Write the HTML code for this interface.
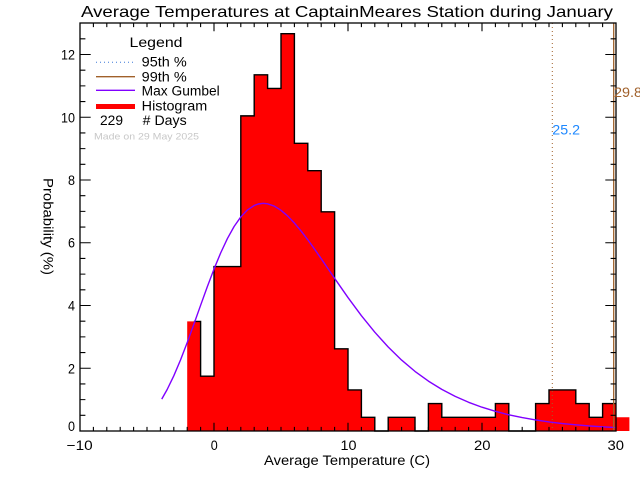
<!DOCTYPE html>
<html><head><meta charset="utf-8"><style>
html,body{margin:0;padding:0;background:#fff;}
svg{display:block;}
text{font-family:"Liberation Sans",sans-serif;}
</style></head><body>
<svg width="640" height="480" viewBox="0 0 640 480" xmlns="http://www.w3.org/2000/svg">
<rect x="0" y="0" width="640" height="480" fill="#fff"/>
<!-- histogram fill -->
<path fill="#ff0000" d="M187.2 431 V321.39 H200.6 V376.2 H214 V266.59 H240.8 V115.88 H254.2 V74.78 H267.6 V88.48 H281 V33.67 H294.4 V143.28 H307.8 V170.68 H321.2 V211.79 H334.6 V348.79 H348 V389.9 H361.4 V417.3 H374.8 V431 H388.2 V417.3 H415 V431 H428.4 V403.6 H441.8 V417.3 H495.4 V403.6 H508.8 V431 H535.6 V403.6 H549 V389.9 H575.8 V403.6 H589.2 V417.3 H602.6 V403.6 H616 V417.3 H629.4 V431 Z"/>
<!-- histogram outline -->
<path fill="none" stroke="#000" stroke-width="1.4" d="M193.9 321.39 H200.6 V376.2 H214 V266.59 H240.8 V115.88 H254.2 V74.78 H267.6 V88.48 H281 V33.67 H294.4 V143.28 H307.8 V170.68 H321.2 V211.79 H334.6 V348.79 H348 V389.9 H361.4 V417.3 H374.8 V431 H388.2 V417.3 H415 V431 H428.4 V403.6 H441.8 V417.3 H495.4 V403.6 H508.8 V431 H535.6 V403.6 H549 V389.9 H575.8 V403.6 H589.2 V417.3 H602.6 V403.6 H616"/>
<!-- gumbel curve -->
<polyline fill="none" stroke="#8000ff" stroke-width="1.4" stroke-linejoin="round" points="161.74,399.1 167.1,389.63 173.8,375.79 180.5,359.98 187.2,342.57 193.9,324.14 200.6,305.32 207.3,286.73 214,269.07 220.7,252.86 227.4,238.55 234.1,226.51 240.8,216.93 247.5,209.92 254.2,205.48 258.2,204.0 263.3,203.34 267.6,203.79 274.3,206.15 281,210.33 287.7,216.05 294.4,223.02 301.1,231.02 307.8,239.77 314.5,249.07 321.2,258.7 327.9,268.51 334.6,278.33 348,297.55 361.4,315.67 374.8,332.21 388.2,347.03 401.6,360.07 415,371.39 428.4,381.11 441.8,389.39 455.2,396.39 468.6,402.29 482,407.22 495.4,411.34 508.8,414.76 522.2,417.6 535.6,419.95 549,421.9 562.4,423.51 575.8,424.84 589.2,425.93 602.6,426.83 616,427.58"/>
<!-- percentile lines -->
<line x1="552.3" y1="23" x2="552.3" y2="431" stroke="#a0602a" stroke-width="1" stroke-dasharray="1 3"/>
<line x1="613.7" y1="23" x2="613.7" y2="431" stroke="#a0602a" stroke-width="1.3"/>
<!-- axes box -->
<rect x="80" y="23" width="536" height="408" fill="none" stroke="#000" stroke-width="1.3"/>
<!-- x ticks -->
<path stroke="#000" stroke-width="1.1" fill="none" d="
M93.4 431v-4.1M106.8 431v-4.1M120.2 431v-4.1M133.6 431v-4.1M147 431v-4.1M160.4 431v-4.1M173.8 431v-4.1M187.2 431v-4.1M200.6 431v-4.1
M227.4 431v-4.1M240.8 431v-4.1M254.2 431v-4.1M267.6 431v-4.1M281 431v-4.1M294.4 431v-4.1M307.8 431v-4.1M321.2 431v-4.1M334.6 431v-4.1
M361.4 431v-4.1M374.8 431v-4.1M388.2 431v-4.1M401.6 431v-4.1M415 431v-4.1M428.4 431v-4.1M441.8 431v-4.1M455.2 431v-4.1M468.6 431v-4.1
M495.4 431v-4.1M508.8 431v-4.1M522.2 431v-4.1M535.6 431v-4.1M549 431v-4.1M562.4 431v-4.1M575.8 431v-4.1M589.2 431v-4.1M602.6 431v-4.1
M214 431v-8.2M348 431v-8.2M482 431v-8.2
M93.4 23v4.1M106.8 23v4.1M120.2 23v4.1M133.6 23v4.1M147 23v4.1M160.4 23v4.1M173.8 23v4.1M187.2 23v4.1M200.6 23v4.1
M227.4 23v4.1M240.8 23v4.1M254.2 23v4.1M267.6 23v4.1M281 23v4.1M294.4 23v4.1M307.8 23v4.1M321.2 23v4.1M334.6 23v4.1
M361.4 23v4.1M374.8 23v4.1M388.2 23v4.1M401.6 23v4.1M415 23v4.1M428.4 23v4.1M441.8 23v4.1M455.2 23v4.1M468.6 23v4.1
M495.4 23v4.1M508.8 23v4.1M522.2 23v4.1M535.6 23v4.1M549 23v4.1M562.4 23v4.1M575.8 23v4.1M589.2 23v4.1M602.6 23v4.1
M214 23v8.2M348 23v8.2M482 23v8.2
"/>
<!-- y ticks -->
<path stroke="#000" stroke-width="1.1" fill="none" d="
M80 415.31h5.4M80 383.94h5.4M80 352.56h5.4M80 321.19h5.4M80 289.81h5.4M80 258.44h5.4M80 227.06h5.4M80 195.69h5.4M80 164.31h5.4M80 132.94h5.4M80 101.56h5.4M80 70.19h5.4M80 38.81h5.4
M80 399.63h5.4M80 336.88h5.4M80 274.13h5.4M80 211.38h5.4M80 148.63h5.4M80 85.88h5.4
M80 368.25h10.7M80 305.5h10.7M80 242.75h10.7M80 180h10.7M80 117.25h10.7M80 54.5h10.7
M616 415.31h-5.4M616 383.94h-5.4M616 352.56h-5.4M616 321.19h-5.4M616 289.81h-5.4M616 258.44h-5.4M616 227.06h-5.4M616 195.69h-5.4M616 164.31h-5.4M616 132.94h-5.4M616 101.56h-5.4M616 70.19h-5.4M616 38.81h-5.4
M616 399.63h-5.4M616 336.88h-5.4M616 274.13h-5.4M616 211.38h-5.4M616 148.63h-5.4M616 85.88h-5.4
M616 368.25h-10.7M616 305.5h-10.7M616 242.75h-10.7M616 180h-10.7M616 117.25h-10.7M616 54.5h-10.7
"/>
<!-- title -->
<text x="81" y="17" font-size="16" textLength="532" lengthAdjust="spacingAndGlyphs" fill="#000">Average Temperatures at CaptainMeares Station during January</text>
<!-- y tick labels -->
<g font-size="13.5" fill="#000">
<text x="61" y="59.5" textLength="14" lengthAdjust="spacingAndGlyphs">12</text>
<text x="61" y="122.5" textLength="14" lengthAdjust="spacingAndGlyphs">10</text>
<text x="68" y="185" textLength="7" lengthAdjust="spacingAndGlyphs">8</text>
<text x="68" y="247.7" textLength="7" lengthAdjust="spacingAndGlyphs">6</text>
<text x="68" y="310.5" textLength="7" lengthAdjust="spacingAndGlyphs">4</text>
<text x="68" y="373.3" textLength="7" lengthAdjust="spacingAndGlyphs">2</text>
<text x="68" y="431" textLength="7" lengthAdjust="spacingAndGlyphs">0</text>
<!-- x tick labels -->
<text x="66.7" y="450" textLength="26" lengthAdjust="spacingAndGlyphs">−10</text>
<text x="210.7" y="450" textLength="7" lengthAdjust="spacingAndGlyphs">0</text>
<text x="340.5" y="450" textLength="16" lengthAdjust="spacingAndGlyphs">10</text>
<text x="474" y="450" textLength="16.5" lengthAdjust="spacingAndGlyphs">20</text>
<text x="607.5" y="450" textLength="16.5" lengthAdjust="spacingAndGlyphs">30</text>
<!-- axis titles -->
<text x="264" y="465" textLength="166" lengthAdjust="spacingAndGlyphs">Average Temperature (C)</text>
<text transform="translate(43.5,178) rotate(90)" x="0" y="0" textLength="97" lengthAdjust="spacingAndGlyphs">Probability (%)</text>
</g>
<!-- legend -->
<g font-size="13.5" fill="#000">
<text x="129.5" y="47" textLength="53" lengthAdjust="spacingAndGlyphs">Legend</text>
<text x="141.7" y="66.7" textLength="45" lengthAdjust="spacingAndGlyphs">95th %</text>
<text x="141.7" y="81.5" textLength="45" lengthAdjust="spacingAndGlyphs">99th %</text>
<text x="141.7" y="95.6" textLength="78" lengthAdjust="spacingAndGlyphs">Max Gumbel</text>
<text x="141.7" y="110.5" textLength="65.5" lengthAdjust="spacingAndGlyphs">Histogram</text>
<text x="100" y="125" textLength="23" lengthAdjust="spacingAndGlyphs">229</text>
<text x="142.7" y="125" textLength="44" lengthAdjust="spacingAndGlyphs"># Days</text>
</g>
<text x="94" y="139.3" font-size="9.5" fill="#c8c8c8" textLength="105" lengthAdjust="spacingAndGlyphs">Made on 29 May 2025</text>
<line x1="96" y1="62.3" x2="135" y2="62.3" stroke="#3c78d8" stroke-width="1" stroke-dasharray="1 3"/>
<line x1="96" y1="76.7" x2="135" y2="76.7" stroke="#a0602a" stroke-width="1.3"/>
<line x1="96" y1="90.3" x2="135" y2="90.3" stroke="#8000ff" stroke-width="1.3"/>
<rect x="96" y="104" width="39" height="5" fill="#ff0000"/>
<!-- percentile labels -->
<text x="552.3" y="134.3" font-size="13.5" fill="#1e88ff" textLength="27.7" lengthAdjust="spacingAndGlyphs">25.2</text>
<text x="614" y="97" font-size="13.5" fill="#a0602a" textLength="28" lengthAdjust="spacingAndGlyphs">29.8</text>
</svg>
</body></html>
